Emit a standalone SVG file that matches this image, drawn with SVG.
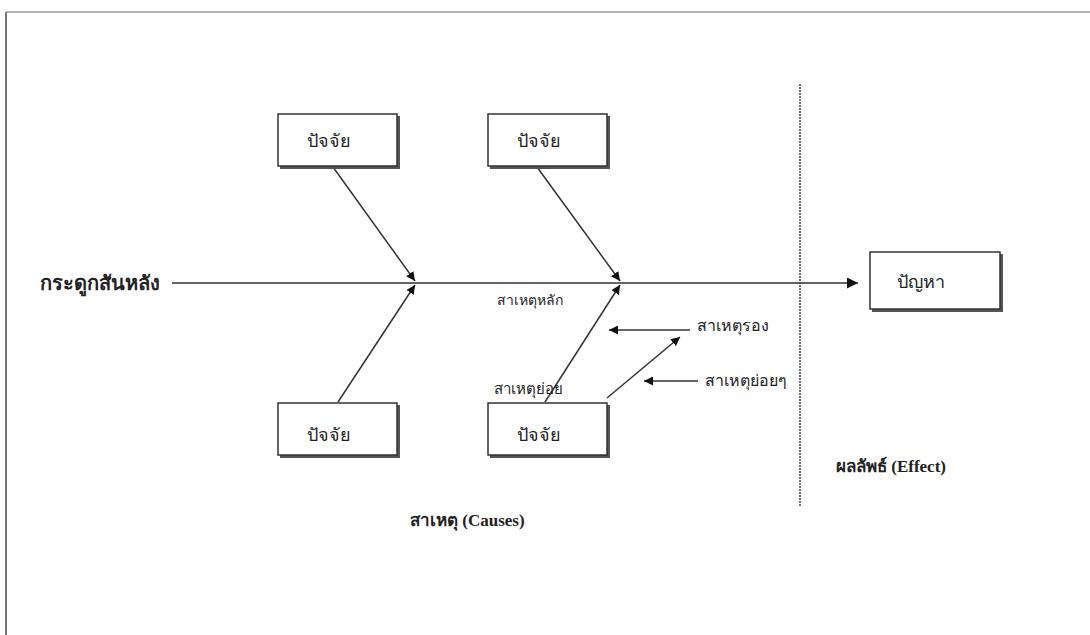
<svg xmlns="http://www.w3.org/2000/svg" width="1090" height="635" viewBox="0 0 1090 635">
<defs>
<style>
.t{font-family:"Liberation Serif","DejaVu Sans","Noto Sans",sans-serif;font-size:16px;fill:#222;}
.bx{font-size:18px;}
.b{font-weight:bold;}
.box{fill:#fff;stroke:#333;stroke-width:1.5;}
.sh{fill:#555;}
.ln{stroke:#333;stroke-width:1.5;fill:none;}
</style>
<marker id="ah" viewBox="0 0 10 10" refX="10" refY="5" markerWidth="9" markerHeight="9" markerUnits="userSpaceOnUse" orient="auto">
<path d="M0,0 L10,5 L0,10 z" fill="#111"/>
</marker>
<marker id="ahs" viewBox="0 0 10 10" refX="10" refY="5" markerWidth="11" markerHeight="11" markerUnits="userSpaceOnUse" orient="auto">
<path d="M0,0 L10,5 L0,10 z" fill="#111"/>
</marker>
</defs>
<rect x="0" y="0" width="1090" height="635" fill="#fff"/>
<g id="frame">
<line x1="6" y1="12" x2="1090" y2="12" stroke="#999" stroke-width="1.5"/>
<line x1="6" y1="12" x2="6" y2="635" stroke="#777" stroke-width="2"/>
</g>
<g id="connectors">
<line class="ln" x1="172" y1="283" x2="858" y2="283" marker-end="url(#ahs)"/>
<line class="ln" x1="333" y1="167" x2="415" y2="281" marker-end="url(#ah)"/>
<line class="ln" x1="537" y1="167" x2="620" y2="281" marker-end="url(#ah)"/>
<line class="ln" x1="338" y1="402" x2="415" y2="285" marker-end="url(#ah)"/>
<line class="ln" x1="545" y1="402" x2="620" y2="285" marker-end="url(#ah)"/>
<line class="ln" x1="690" y1="330" x2="609" y2="330" marker-end="url(#ah)"/>
<line class="ln" x1="607" y1="398" x2="680" y2="337" marker-end="url(#ah)"/>
<line class="ln" x1="698" y1="381" x2="644" y2="381" marker-end="url(#ah)"/>
<line x1="800" y1="84" x2="800" y2="506" stroke="#444" stroke-width="1.5" stroke-dasharray="2,1"/>
</g>
<g id="spine-label"><text class="t b" x="40" y="290" style="font-size:20px">กระดูกสันหลัง</text></g>
<g id="factor-top-1">
<rect class="sh" x="280" y="116" width="120" height="53"/>
<rect class="box" x="278" y="114" width="119" height="52"/>
<text class="t bx" x="307" y="147">ปัจจัย</text>
</g>
<g id="factor-top-2">
<rect class="sh" x="490" y="116" width="120" height="53"/>
<rect class="box" x="488" y="114" width="119" height="52"/>
<text class="t bx" x="517" y="147">ปัจจัย</text>
</g>
<g id="factor-bottom-1">
<rect class="sh" x="280" y="405" width="120" height="53"/>
<rect class="box" x="278" y="403" width="119" height="52"/>
<text class="t bx" x="307" y="441">ปัจจัย</text>
</g>
<g id="factor-bottom-2">
<rect class="sh" x="490" y="405" width="120" height="53"/>
<rect class="box" x="488" y="403" width="119" height="52"/>
<text class="t bx" x="517" y="441">ปัจจัย</text>
</g>
<g id="problem">
<rect class="sh" x="872" y="254" width="131" height="58"/>
<rect class="box" x="870" y="252" width="130" height="57"/>
<text class="t bx" x="897" y="288">ปัญหา</text>
</g>
<g id="labels">
<text class="t" x="497" y="305" style="font-size:14px">สาเหตุหลัก</text>
<text class="t" x="697" y="331">สาเหตุรอง</text>
<text class="t" x="705" y="386">สาเหตุย่อยๆ</text>
<text class="t" x="494" y="394" style="font-size:15px">สาเหตุย่อย</text>
<text class="t b" x="410" y="526" style="font-size:17px">สาเหตุ (Causes)</text>
<text class="t b" x="836" y="472" style="font-size:17px">ผลลัพธ์ (Effect)</text>
</g>
</svg>
